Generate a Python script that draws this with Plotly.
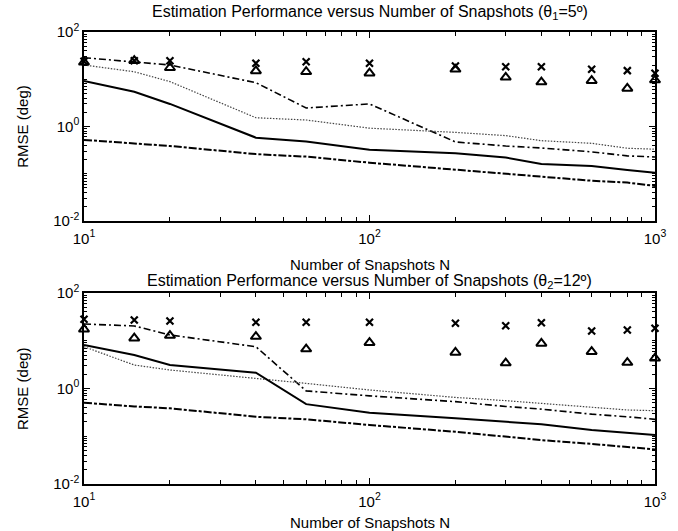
import plotly.graph_objects as go

N = [10, 15, 20, 40, 60, 100, 200, 300, 400, 600, 800, 1000]

# Top panel (theta1 = 5 deg)
top_dashdot = [28.6, 23.5, 20.0, 8.45, 2.46, 3.0, 0.47, 0.386, 0.35, 0.29, 0.238, 0.226]
top_dotted = [20.0, 14.4, 8.9, 1.53, 1.37, 0.92, 0.75, 0.64, 0.50, 0.44, 0.346, 0.33]
top_solid = [9.2, 5.45, 3.0, 0.58, 0.48, 0.32, 0.27, 0.22, 0.16, 0.146, 0.12, 0.105]
top_dashed = [0.52, 0.44, 0.386, 0.26, 0.23, 0.171, 0.12, 0.099, 0.087, 0.071, 0.065, 0.055]
top_x = [24.0, 24.7, 24.7, 21.8, 23.5, 21.8, 19.1, 18.4, 18.4, 16.2, 15.2, 13.4]
top_tri = [22.9, 24.7, 17.5, 15.0, 14.4, 13.4, 16.2, 11.0, 8.7, 9.3, 6.4, 9.6]

# Bottom panel (theta2 = 12 deg)
bot_dashdot = [22.4, 20.4, 13.2, 7.5, 0.89, 0.70, 0.53, 0.42, 0.37, 0.29, 0.256, 0.226]
bot_dotted = [7.5, 3.1, 2.44, 1.64, 1.28, 0.93, 0.65, 0.556, 0.49, 0.40, 0.355, 0.343]
bot_solid = [8.15, 5.03, 3.1, 2.14, 0.47, 0.31, 0.238, 0.20, 0.178, 0.135, 0.119, 0.106]
bot_dashed = [0.505, 0.42, 0.385, 0.256, 0.226, 0.172, 0.124, 0.098, 0.083, 0.069, 0.060, 0.053]
bot_x = [28.1, 27.2, 25.9, 24.3, 24.3, 24.3, 23.2, 20.7, 23.9, 16.0, 16.8, 18.2]
bot_tri = [17.4, 11.3, 12.8, 12.2, 6.7, 9.1, 5.7, 3.4, 8.8, 5.9, 3.5, 4.3]

x_tickvals = [10, 100, 1000]
x_ticktext = ["10<sup>1</sup>", "10<sup>2</sup>", "10<sup>3</sup>"]
y_tickvals = [0.01, 1, 100]
y_ticktext = ["10<sup>-2</sup>", "10<sup>0</sup>", "10<sup>2</sup>"]

titles = ["Estimation Performance versus Number of Snapshots (\u03b8<sub>1</sub>=5\u00ba)",
          "Estimation Performance versus Number of Snapshots (\u03b8<sub>2</sub>=12\u00ba)"]
xlabel = "Number of Snapshots N"
ylabel = "RMSE (deg)"

FONT = "Liberation Sans, Arial, sans-serif"

fig = go.Figure()

panels = [
    ("x", "y", top_dashdot, top_dotted, top_solid, top_dashed, top_x, top_tri),
    ("x2", "y2", bot_dashdot, bot_dotted, bot_solid, bot_dashed, bot_x, bot_tri),
]
for xa, ya, dd, dt, so, da, xm, tr in panels:
    fig.add_trace(go.Scatter(x=N, y=dd, mode="lines", xaxis=xa, yaxis=ya,
                             line=dict(color="black", width=1.6, dash="7px,3px,2px,3px")))
    fig.add_trace(go.Scatter(x=N, y=dt, mode="lines", xaxis=xa, yaxis=ya,
                             line=dict(color="#444444", width=1.2, dash="1.5px,1.5px")))
    fig.add_trace(go.Scatter(x=N, y=so, mode="lines", xaxis=xa, yaxis=ya,
                             line=dict(color="black", width=2)))
    fig.add_trace(go.Scatter(x=N, y=da, mode="lines", xaxis=xa, yaxis=ya,
                             line=dict(color="black", width=2, dash="8px,2px,3px,2px")))
    fig.add_trace(go.Scatter(x=N, y=xm, mode="markers", xaxis=xa, yaxis=ya, cliponaxis=False,
                             marker=dict(symbol="x-thin-open", size=7, color="black",
                                         line=dict(width=2.2, color="black"))))
    fig.add_trace(go.Scatter(x=N, y=tr, mode="markers", xaxis=xa, yaxis=ya, cliponaxis=False,
                             marker=dict(symbol="triangle-up-open", size=9, color="black",
                                         line=dict(width=2, color="black"))))

x_minor = [m * 10 ** e for e in (1, 2) for m in range(2, 10)]
y_minor = [m * 10.0 ** e for e in (-2, -1, 0, 1) for m in range(1, 10) if not (m == 1 and e in (-2, 0))]

axis_common = dict(type="log", showgrid=False, zeroline=False, showline=True, linecolor="black",
                   linewidth=1.5, mirror="ticks", ticks="inside", ticklen=6, tickcolor="black",
                   tickfont=dict(family=FONT, size=15, color="black"))

xax = dict(axis_common, range=[1, 3], tickvals=x_tickvals, ticktext=x_ticktext,
           ticklabelstandoff=3,
           minor=dict(ticks="inside", ticklen=4, tickvals=x_minor, tickcolor="black"))
yax = dict(axis_common, range=[-2, 2], tickvals=y_tickvals, ticktext=y_ticktext,
           minor=dict(ticks="inside", ticklen=3, tickvals=y_minor, tickcolor="black"))

fig.update_layout(
    width=678, height=531,
    margin=dict(l=84, r=18, t=32, b=47),
    paper_bgcolor="white", plot_bgcolor="white",
    showlegend=False,
    xaxis=dict(xax, domain=[0, 1], anchor="y"),
    yaxis=dict(yax, domain=[0.582, 1], anchor="x"),
    xaxis2=dict(xax, domain=[0, 1], anchor="y2"),
    yaxis2=dict(yax, domain=[0, 0.4226], anchor="x2"),
)

annots = [
    dict(text=titles[0], x=0.5, y=1.044, font=dict(size=16)),
    dict(text=titles[1], x=0.5, y=0.447, font=dict(size=16)),
    dict(text=xlabel, x=0.5, y=0.486, font=dict(size=15)),
    dict(text=xlabel, x=0.5, y=-0.085, font=dict(size=15)),
    dict(text=ylabel, x=-0.108, y=0.791, font=dict(size=15), textangle=-90),
    dict(text=ylabel, x=-0.108, y=0.211, font=dict(size=15), textangle=-90),
]
for a in annots:
    fig.add_annotation(xref="paper", yref="paper", showarrow=False,
                       xanchor="center", yanchor="middle",
                       text=a["text"], x=a["x"], y=a["y"], textangle=a.get("textangle", 0),
                       font=dict(family=FONT, color="black", size=a["font"]["size"]))

fig.write_html("out.html")
